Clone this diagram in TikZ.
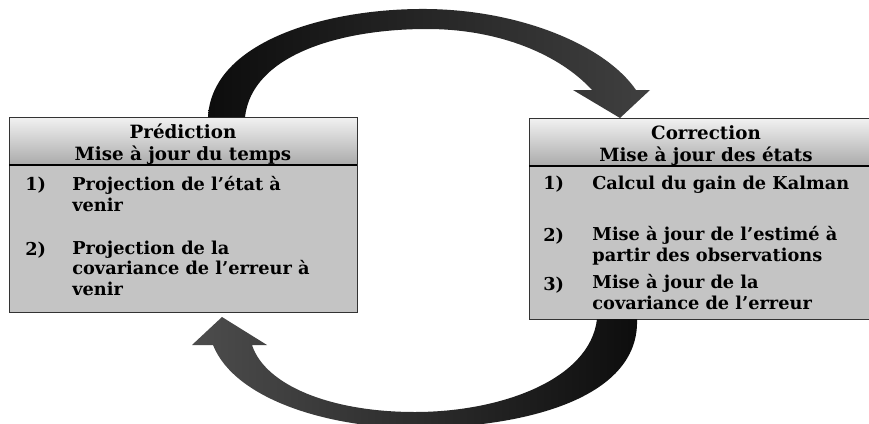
\documentclass[tikz,border=0pt]{standalone}
\usepackage{fontspec}
\setmainfont{DejaVu Serif}
\definecolor{fondboite}{RGB}{196,196,196}
\definecolor{hauttitre}{RGB}{242,242,242}
\definecolor{bastitre}{RGB}{170,170,170}
\tikzset{
  texte/.style={inner sep=0pt, anchor=base west, align=left,
    font=\fontsize{10.1}{11.6}\selectfont\bfseries},
  titre/.style={inner sep=0pt, anchor=base, align=center,
    font=\fontsize{10.4}{12.2}\selectfont\bfseries}
}
\begin{document}
\begin{tikzpicture}[x=0.02cm,y=-0.02cm]
	\useasboundingbox (0,0) rectangle (869,423);
	\clip (0,0) rectangle (869,423);
	
	% Boîte prédiction
	\shade[top color=hauttitre, bottom color=bastitre] (9,117) rectangle (357,165);
	\fill[fondboite] (9,165) rectangle (357,312);
	\draw[black!80] (9,117) rectangle (357,312);
	\draw[thick] (9,165) -- (357,165);
	
	% Boîte correction
	\shade[top color=hauttitre, bottom color=bastitre] (529,118) rectangle (883,166);
	\fill[fondboite] (529,166) rectangle (883,319);
	\draw[black!80] (529,118) rectangle (883,319);
	\draw[thick] (529,166) -- (883,166);
	
	% Titres (ancrés sur la dernière ligne)
	\node[titre] (tpred) at (183,160) {Prédiction\\Mise à jour du temps};
	\node[titre] (tcorr) at (706,161) {Correction\\Mise à jour des états};
	
	% Étapes prédiction
	\node[texte] (np1) at (25,190) {1)};
	\node[texte] (p1) at (72,211) {Projection de l’état à\\venir};
	\node[texte] (np2) at (25,255) {2)};
	\node[texte] (p2) at (72,295) {Projection de la\\covariance de l’erreur à\\venir};
	
	% Étapes correction
	\node[texte] (nc1) at (543,189) {1)};
	\node[texte] (c1) at (592,189) {Calcul du gain de Kalman};
	\node[texte] (nc2) at (543,241) {2)};
	\node[texte] (c2) at (592,261) {Mise à jour de l’estimé à\\partir des observations};
	\node[texte] (nc3) at (543,290) {3)};
	\node[texte] (c3) at (592,309) {Mise à jour de la\\covariance de l’erreur};
	
	% Flèche du haut
	\shade[left color=black!95, middle color=black!45, right color=black!75]
	  (208,117) .. controls (212,40) and (330,8) .. (427,9)
	  .. controls (520,10) and (605,45) .. (636,90)
	  -- (650,90) -- (620,118) -- (573,90) -- (592,90)
	  .. controls (560,55) and (500,29) .. (427,29)
	  .. controls (340,29) and (252,55) .. (245,117) -- cycle;
	
	% Flèche du bas
	\shade[left color=black!70, middle color=black!40, right color=black!95]
	  (597,319) .. controls (590,380) and (500,412) .. (415,412)
	  .. controls (330,412) and (265,385) .. (252,345)
	  -- (267,345) -- (222,317) -- (192,345) -- (213,345)
	  .. controls (235,400) and (330,428) .. (415,428)
	  .. controls (520,428) and (640,400) .. (637,319) -- cycle;
	
\end{tikzpicture}
\end{document}
